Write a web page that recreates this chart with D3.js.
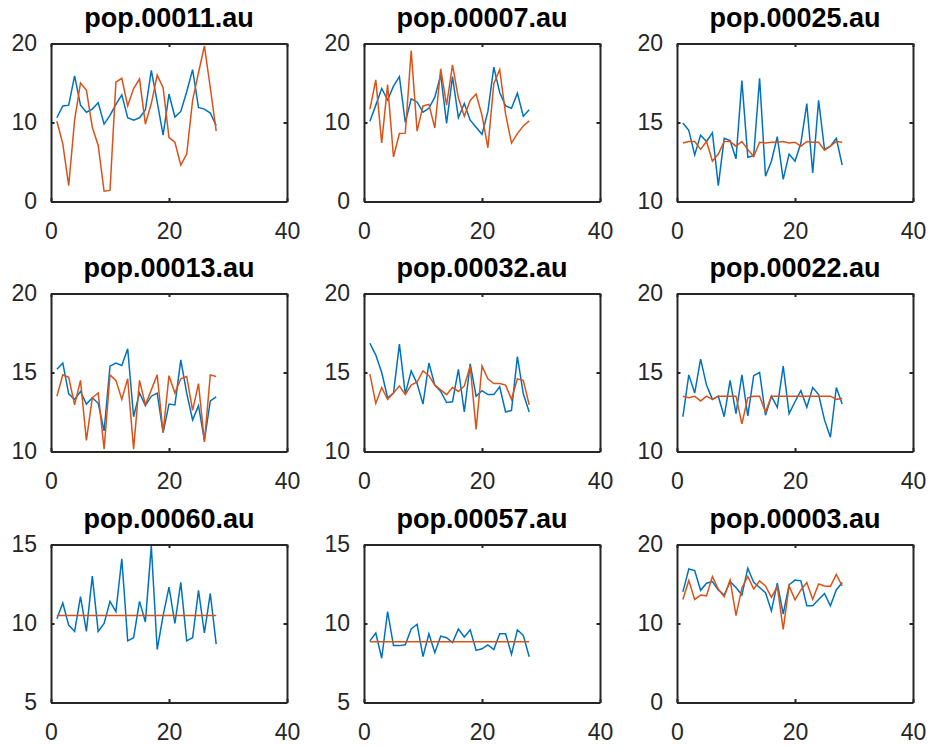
<!DOCTYPE html>
<html>
<head>
<meta charset="utf-8">
<script src="https://cdn.jsdelivr.net/npm/d3@7"></script>
<style>
  body { margin: 0; background: #fff; }
  svg { display: block; }
  .tick text { font-family: "Liberation Sans", Arial, sans-serif; fill: #262626; }
  .ttl { font-family: "Liberation Sans", Arial, sans-serif; font-weight: bold; fill: #000; }
</style>
</head>
<body>
<div id="fig"></div>
<script>
// subplot titles, row by row
var titles = ["pop.00011.au", "pop.00007.au", "pop.00025.au",
              "pop.00013.au", "pop.00032.au", "pop.00022.au",
              "pop.00060.au", "pop.00057.au", "pop.00003.au"];

// y axis limits and ticks for each subplot
var yLimits = [[0, 20], [0, 20], [10, 20],
               [10, 20], [10, 20], [10, 20],
               [5, 15], [5, 15], [0, 20]];
var yTicks = [[0, 10, 20], [0, 10, 20], [10, 15, 20],
              [10, 15, 20], [10, 15, 20], [10, 15, 20],
              [5, 10, 15], [5, 10, 15], [0, 10, 20]];
var xLimits = [0, 40];
var xTicks = [0, 20, 40];

// frame index 1..28
var frames = d3.range(1, 29);

// blue series (first column of each plot)
var blue00011 = [10.6, 12.1, 12.2, 15.9, 12.2, 11.3, 11.7, 12.5, 9.8, 10.9, 12.3, 13.5, 10.6, 10.3, 10.6, 11.6, 16.6, 12.6, 8.4, 13.6, 10.7, 11.4, 13.9, 16.7, 11.9, 11.7, 11.2, 9.6];
var blue00007 = [10.15, 12.2, 14.3, 12.85, 14.6, 15.8, 10.0, 13.0, 12.6, 11.3, 11.8, 13.2, 16.0, 9.9, 15.8, 10.6, 12.4, 10.3, 9.4, 8.5, 11.4, 17.0, 13.8, 12.1, 11.8, 13.7, 10.8, 11.6];
var blue00025 = [14.97, 14.5, 12.95, 14.2, 13.8, 14.35, 11.0, 14.0, 13.85, 12.7, 17.65, 12.8, 12.9, 17.8, 11.6, 12.55, 14.1, 11.4, 13.0, 12.55, 13.7, 16.2, 11.8, 16.4, 13.3, 13.5, 14.0, 12.3];
var blue00013 = [15.2, 15.6, 13.65, 13.3, 13.8, 13.0, 13.4, 13.05, 11.3, 15.4, 15.6, 15.45, 16.5, 12.2, 13.7, 12.9, 13.5, 13.7, 11.2, 13.0, 12.95, 15.8, 13.7, 12.0, 12.9, 10.7, 13.2, 13.45];
var blue00032 = [16.85, 16.1, 15.0, 13.4, 13.7, 16.8, 13.65, 15.1, 14.3, 13.0, 15.6, 14.2, 13.8, 13.1, 13.15, 15.2, 12.5, 15.55, 13.5, 13.85, 13.6, 13.6, 14.1, 12.5, 12.6, 16.0, 13.65, 12.5];
var blue00022 = [12.2, 14.85, 13.7, 15.85, 14.2, 13.3, 13.5, 12.2, 14.5, 12.4, 14.85, 12.25, 14.8, 15.0, 12.3, 13.5, 12.8, 15.4, 12.4, 13.15, 13.85, 12.8, 14.05, 13.6, 12.0, 10.9, 14.05, 13.0];
var blue00060 = [10.3, 11.3, 9.9, 9.5, 11.7, 9.5, 13.0, 9.5, 10.0, 11.4, 10.75, 14.1, 8.9, 9.1, 11.4, 10.1, 14.9, 8.35, 10.5, 12.3, 10.0, 12.6, 8.9, 9.1, 12.1, 9.4, 11.9, 8.7];
var blue00057 = [8.9, 9.4, 7.8, 10.75, 8.6, 8.6, 8.65, 9.65, 9.95, 7.9, 9.35, 8.15, 9.2, 9.1, 8.8, 9.65, 9.15, 9.6, 8.3, 8.4, 8.65, 8.35, 9.35, 9.35, 8.05, 9.6, 9.25, 7.9];
var blue00003 = [14.0, 16.9, 16.7, 14.2, 15.1, 15.3, 14.25, 13.6, 15.3, 14.55, 13.6, 17.0, 15.2, 14.55, 13.9, 11.6, 15.1, 11.2, 14.9, 15.5, 15.4, 12.25, 12.25, 13.05, 13.8, 12.25, 14.25, 15.2];

// orange series (second column of each plot)
var orange00011 = [10.15, 7.3, 2.0, 10.3, 15.0, 14.1, 9.4, 7.1, 1.3, 1.4, 15.1, 15.6, 12.1, 14.3, 15.5, 9.8, 12.4, 16.0, 14.4, 8.1, 7.5, 4.6, 6.0, 12.8, 16.3, 19.7, 14.4, 8.9];
var orange00007 = [11.7, 15.4, 7.4, 14.8, 5.65, 8.6, 8.65, 19.1, 8.9, 12.1, 12.3, 9.3, 16.8, 12.2, 17.3, 13.1, 10.8, 12.8, 13.6, 10.9, 6.8, 14.9, 16.7, 11.05, 7.4, 8.6, 9.55, 10.2];
var orange00025 = [13.7, 13.8, 13.8, 13.3, 13.8, 12.55, 13.0, 13.8, 13.8, 13.5, 13.8, 13.3, 12.85, 13.75, 13.7, 13.75, 13.75, 13.8, 13.7, 13.75, 13.5, 13.8, 13.75, 13.75, 13.25, 13.5, 13.8, 13.75];
var orange00013 = [13.5, 14.85, 14.7, 12.95, 14.5, 10.7, 13.4, 13.7, 10.15, 14.85, 14.5, 13.3, 14.6, 10.15, 14.5, 12.95, 13.9, 14.85, 11.2, 14.8, 13.7, 14.6, 14.75, 12.6, 14.3, 10.6, 14.85, 14.75];
var orange00032 = [14.9, 13.05, 14.05, 13.3, 13.7, 14.15, 13.6, 14.2, 14.4, 15.1, 14.8, 14.2, 13.9, 13.6, 14.05, 13.8, 14.15, 15.4, 11.4, 15.4, 14.6, 14.3, 14.3, 14.2, 13.3, 14.6, 14.5, 12.95];
var orange00022 = [13.5, 13.4, 13.5, 13.2, 13.5, 13.3, 13.5, 13.5, 13.5, 13.5, 11.75, 13.4, 13.5, 13.5, 12.5, 13.5, 13.5, 13.5, 13.5, 13.5, 13.5, 13.5, 13.5, 13.5, 13.5, 13.5, 13.3, 13.35];
var orange00060 = [10.5, 10.5, 10.5, 10.5, 10.5, 10.5, 10.5, 10.5, 10.5, 10.5, 10.5, 10.5, 10.5, 10.5, 10.5, 10.5, 10.5, 10.5, 10.5, 10.5, 10.5, 10.5, 10.5, 10.5, 10.5, 10.5, 10.5, 10.5];
var orange00057 = [8.85, 8.85, 8.85, 8.85, 8.85, 8.85, 8.85, 8.85, 8.85, 8.85, 8.85, 8.85, 8.85, 8.85, 8.85, 8.85, 8.85, 8.85, 8.85, 8.85, 8.85, 8.85, 8.85, 8.85, 8.85, 8.85, 8.85, 8.85];
var orange00003 = [13.05, 15.45, 13.05, 13.6, 13.5, 15.95, 14.35, 13.4, 15.5, 11.0, 14.5, 15.95, 14.35, 15.4, 14.75, 13.3, 14.7, 9.25, 14.75, 13.0, 14.25, 15.2, 13.05, 15.0, 14.75, 14.7, 16.2, 14.75];

var blueSeries = [blue00011, blue00007, blue00025, blue00013, blue00032, blue00022, blue00060, blue00057, blue00003];
var orangeSeries = [orange00011, orange00007, orange00025, orange00013, orange00032, orange00022, orange00060, orange00057, orange00003];

var colors = ["#0072BD", "#D95319"];

function init(){
  var W = 932, H = 748;
  var svg = d3.select("#fig").append("svg").attr("width", W).attr("height", H);

  // subplot grid
  var lefts = [51, 364, 677];
  var tops = [43.5, 293.5, 544.5];
  var w = 236, h = 158;

  for (var k = 0; k < 9; k++){
    drawPanel(svg, k, lefts[k % 3], tops[Math.floor(k / 3)], w, h);
  }
}

function drawPanel(svg, k, left, top, w, h){
  var g = svg.append("g").attr("transform", "translate(" + left + "," + top + ")");

  var x = d3.scaleLinear().domain(xLimits).range([0, w]);
  var y = d3.scaleLinear().domain(yLimits[k]).range([h, 0]);

  var line = d3.line()
      .x(function(d, i){ return x(frames[i]); })
      .y(function(d){ return y(d); });

  [blueSeries[k], orangeSeries[k]].forEach(function(s, j){
    g.append("path")
      .datum(s)
      .attr("d", line)
      .attr("fill", "none")
      .attr("stroke", colors[j])
      .attr("stroke-width", 1.5)
      .attr("stroke-linejoin", "miter");
  });

  // box axes with inward ticks
  var tk = -3.5;
  var ax = [
    g.append("g").attr("transform", "translate(0," + h + ")")
      .call(d3.axisBottom(x).tickValues(xTicks).tickSize(tk).tickSizeOuter(0).tickPadding(21)),
    g.append("g")
      .call(d3.axisLeft(y).tickValues(yTicks[k]).tickSize(tk).tickSizeOuter(0).tickPadding(14)),
    g.append("g")
      .call(d3.axisTop(x).tickValues(xTicks).tickSize(tk).tickSizeOuter(0).tickFormat("")),
    g.append("g").attr("transform", "translate(" + w + ",0)")
      .call(d3.axisRight(y).tickValues(yTicks[k]).tickSize(tk).tickSizeOuter(0).tickFormat(""))
  ];
  ax.forEach(function(a){
    a.select(".domain").attr("stroke", "#262626").attr("stroke-width", 2);
    a.selectAll(".tick line").attr("stroke", "#262626").attr("stroke-width", 2);
    a.selectAll(".tick text").attr("font-size", 23).attr("fill", "#262626");
  });

  g.append("text")
    .attr("class", "ttl")
    .attr("x", w / 2)
    .attr("y", -16.5)
    .attr("text-anchor", "middle")
    .attr("font-size", 27)
    .text(titles[k]);
}

init();
</script>
</body>
</html>
